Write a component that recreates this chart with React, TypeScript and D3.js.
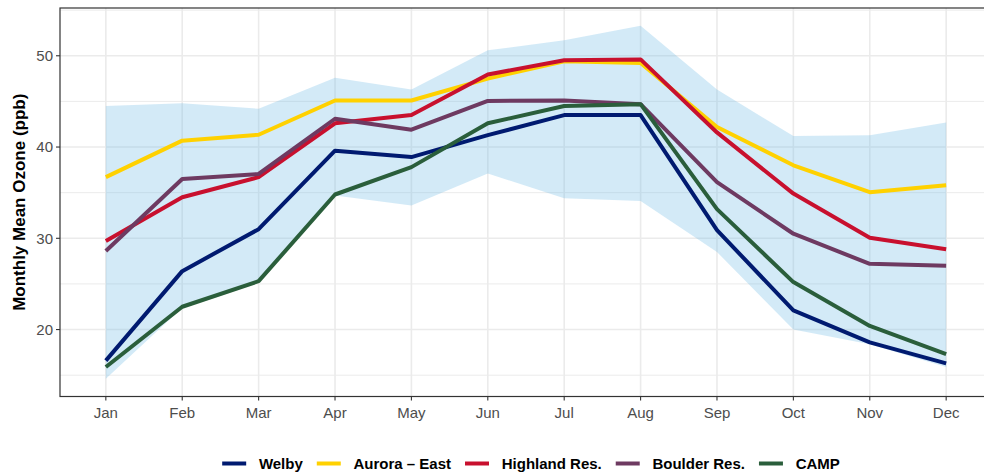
import React from "react";
import * as d3 from "d3";

const months = ["Jan", "Feb", "Mar", "Apr", "May", "Jun", "Jul", "Aug", "Sep", "Oct", "Nov", "Dec"];
const welby = [16.6, 26.4, 31.0, 39.6, 38.9, 41.3, 43.5, 43.5, 30.9, 22.1, 18.6, 16.3];
const auroraEast = [36.7, 40.7, 41.35, 45.1, 45.1, 47.5, 49.4, 49.2, 42.2, 38.0, 35.05, 35.8];
const highland = [29.7, 34.5, 36.7, 42.6, 43.5, 47.95, 49.5, 49.6, 41.6, 34.9, 30.05, 28.8];
const boulder = [28.6, 36.5, 37.05, 43.1, 41.9, 45.05, 45.1, 44.7, 36.15, 30.5, 27.2, 27.0];
const camp = [15.9, 22.5, 25.3, 34.8, 37.8, 42.6, 44.5, 44.7, 33.2, 25.2, 20.4, 17.3];
const ribbonUpper = [44.5, 44.8, 44.2, 47.6, 46.3, 50.6, 51.7, 53.3, 46.3, 41.2, 41.3, 42.7];
const ribbonLower = [14.6, 22.4, 25.2, 34.7, 33.6, 37.1, 34.4, 34.1, 28.5, 20.0, 18.4, 15.9];
const yTicks = [20, 30, 40, 50];
const yMinor = [15, 25, 35, 45, 55];
const seriesNames = ["Welby", "Aurora – East", "Highland Res.", "Boulder Res.", "CAMP"];
const seriesColors = ["#001A70", "#FFD100", "#C8102E", "#6E3A61", "#2A5E3B"];
const seriesValues = [welby, auroraEast, highland, boulder, camp];

const FONT = "'Liberation Sans', Arial, Helvetica, sans-serif";

function measure(text: string, font: string): number {
  const c = document.createElement("canvas");
  const ctx = c.getContext("2d");
  if (!ctx) return text.length * 8;
  ctx.font = font;
  return ctx.measureText(text).width;
}

export default function App() {
  const W = 984;
  const H = 474;
  const left = 60;
  const right = 992;
  const top = 8;
  const bottom = 396.5;

  const x = d3.scaleLinear().domain([-0.6, months.length - 1 + 0.6]).range([left, right]);
  const lo = d3.min(ribbonLower) as number;
  const hi = d3.max(ribbonUpper) as number;
  const pad = (hi - lo) * 0.05;
  const y = d3.scaleLinear().domain([lo - pad, hi + pad]).range([bottom, top]);

  const area = d3
    .area<number>()
    .x((_, i) => x(i))
    .y0((_, i) => y(ribbonLower[i]))
    .y1((_, i) => y(ribbonUpper[i]));
  const line = d3
    .line<number>()
    .x((_, i) => x(i))
    .y((d) => y(d));

  const legendFont = `bold 15px ${FONT}`;
  const keyW = 24;
  const keyGap = 12.7;
  const itemGap = 14;
  const widths = seriesNames.map((n) => measure(n, legendFont));
  const total = widths.reduce((a, w) => a + keyW + keyGap + w, 0) + itemGap * (seriesNames.length - 1);
  const legendCenter = 531;
  let cursor = legendCenter - total / 2;
  const legendItems = seriesNames.map((n, i) => {
    const start = cursor;
    cursor += keyW + keyGap + widths[i] + itemGap;
    return { name: n, color: seriesColors[i], start };
  });
  const legendY = 463.5;

  return (
    <svg
      width={W}
      height={H}
      style={{ position: "absolute", left: 0, top: 0, background: "#fff" }}
      fontFamily={FONT}
    >
      <rect x={0} y={0} width={W} height={H} fill="#fff" />
      {yMinor.map((v) =>
        y(v) > top && y(v) < bottom ? (
          <line key={"mn" + v} x1={left} x2={right} y1={y(v)} y2={y(v)} stroke="#EBEBEB" strokeWidth={1} />
        ) : null
      )}
      {yTicks.map((v) => (
        <line key={"mj" + v} x1={left} x2={right} y1={y(v)} y2={y(v)} stroke="#EBEBEB" strokeWidth={1.6} />
      ))}
      {months.map((m, i) => (
        <line key={"vx" + m} x1={x(i)} x2={x(i)} y1={top} y2={bottom} stroke="#EBEBEB" strokeWidth={1.6} />
      ))}
      <path d={area(ribbonUpper) || ""} fill="#6CB8E6" fillOpacity={0.3} />
      {seriesValues.map((vals, i) => (
        <path
          key={seriesNames[i]}
          d={line(vals) || ""}
          fill="none"
          stroke={seriesColors[i]}
          strokeWidth={4}
          strokeLinejoin="round"
          strokeLinecap="butt"
        />
      ))}
      <rect x={left} y={top} width={right - left} height={bottom - top} fill="none" stroke="#333333" strokeWidth={1.2} />
      {yTicks.map((v) => (
        <g key={"yt" + v}>
          <line x1={left - 4} x2={left} y1={y(v)} y2={y(v)} stroke="#333333" strokeWidth={1.1} />
          <text x={left - 7} y={y(v)} dy="0.36em" textAnchor="end" fontSize={15} fill="#4D4D4D">
            {v}
          </text>
        </g>
      ))}
      {months.map((m, i) => (
        <g key={"xt" + m}>
          <line x1={x(i)} x2={x(i)} y1={bottom} y2={bottom + 4} stroke="#333333" strokeWidth={1.1} />
          <text x={x(i)} y={418} textAnchor="middle" fontSize={15} fill="#4D4D4D">
            {m}
          </text>
        </g>
      ))}
      <text
        transform={`translate(25, ${(top + bottom) / 2}) rotate(-90)`}
        textAnchor="middle"
        fontSize={17}
        fontWeight="bold"
        fill="#000"
      >
        Monthly Mean Ozone (ppb)
      </text>
      {legendItems.map((it) => (
        <g key={"lg" + it.name}>
          <line x1={it.start} x2={it.start + keyW} y1={legendY} y2={legendY} stroke={it.color} strokeWidth={4} />
          <text x={it.start + keyW + keyGap} y={legendY + 5.4} fontSize={15} fontWeight="bold" fill="#000">
            {it.name}
          </text>
        </g>
      ))}
    </svg>
  );
}
